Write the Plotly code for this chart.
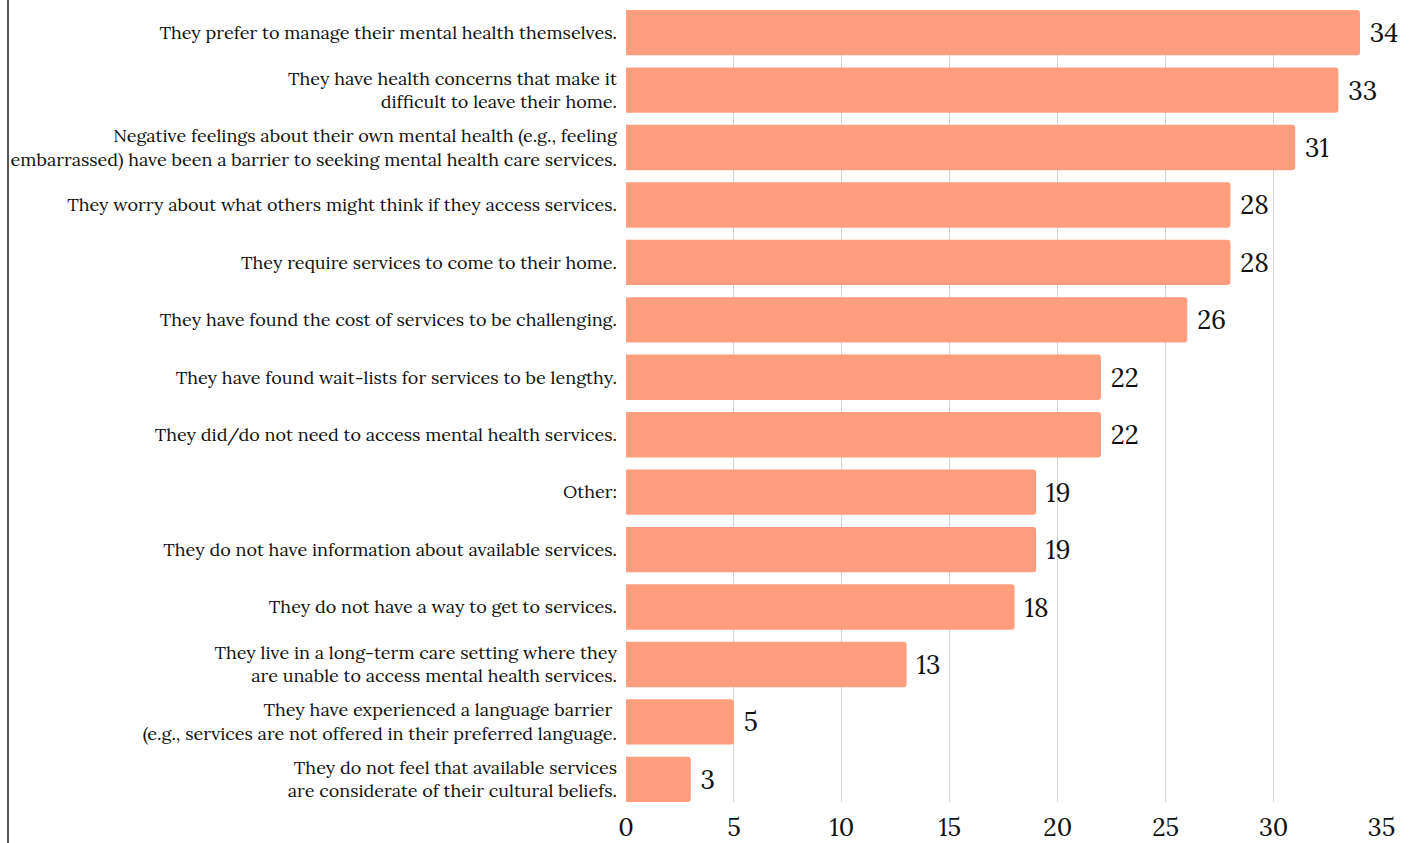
import plotly.graph_objects as go

categories = [
    "They prefer to manage their mental health themselves.",
    "They have health concerns that make it<br>difficult to leave their home.",
    "Negative feelings about their own mental health (e.g., feeling<br>embarrassed) have been a barrier to seeking mental health care services.",
    "They worry about what others might think if they access services.",
    "They require services to come to their home.",
    "They have found the cost of services to be challenging.",
    "They have found wait-lists for services to be lengthy.",
    "They did/do not need to access mental health services.",
    "Other:",
    "They do not have information about available services.",
    "They do not have a way to get to services.",
    "They live in a long-term care setting where they<br>are unable to access mental health services.",
    "They have experienced a language barrier <br>(e.g., services are not offered in their preferred language.",
    "They do not feel that available services<br>are considerate of their cultural beliefs.",
]
values = [34, 33, 31, 28, 28, 26, 22, 22, 19, 19, 18, 13, 5, 3]
x_ticks = [0, 5, 10, 15, 20, 25, 30, 35]

FONT = "Lora, 'DejaVu Serif', serif"
BAR_COLOR = "#FF9D7F"
BARGAP = 0.21
half = (1 - BARGAP) / 2

fig = go.Figure(
    go.Bar(
        x=values,
        y=categories,
        orientation="h",
        marker=dict(color=BAR_COLOR, cornerradius=3, line=dict(width=0)),
        text=values,
        texttemplate="\u00a0%{x}",
        textposition="outside",
        textfont=dict(family=FONT, size=26, color="#111111"),
        cliponaxis=False,
    )
)

fig.update_layout(
    width=1414,
    height=843,
    margin=dict(l=626, r=32, t=10, b=41),
    paper_bgcolor="white",
    plot_bgcolor="white",
    bargap=BARGAP,
    showlegend=False,
    font=dict(family=FONT, color="#111111"),
    xaxis=dict(
        range=[0, 35.02],
        tickvals=x_ticks,
        showgrid=True,
        gridcolor="#D3D3D3",
        gridwidth=1,
        zeroline=False,
        showline=False,
        ticks="",
        automargin=False,
        ticklabelstandoff=8,
        tickfont=dict(family=FONT, size=25, color="#111111"),
    ),
    yaxis=dict(
        type="category",
        range=[len(categories) - 1 + half, -half],
        showgrid=False,
        zeroline=False,
        showline=False,
        ticks="",
        automargin=False,
        ticklabelstandoff=8,
        tickfont=dict(family=FONT, size=18, color="#111111"),
    ),
    shapes=[
        dict(
            type="line",
            xref="paper",
            yref="paper",
            x0=(8 - 626) / 756,
            x1=(8 - 626) / 756,
            y0=-0.1,
            y1=1.1,
            line=dict(color="#222222", width=1.5),
        )
    ],
)

fig.write_html("out.html")
